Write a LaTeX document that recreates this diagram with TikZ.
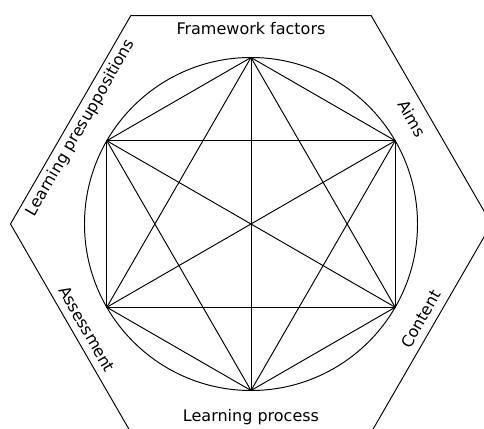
\documentclass[tikz,border=0pt]{standalone}
\usepackage{fontspec}
\setmainfont{DejaVu Sans}
\begin{document}
\begin{tikzpicture}[x=0.625pt, y=0.625pt, line join=round, line cap=round, line width=0.6pt,
  sidelabel/.style={inner sep=0pt, font=\normalsize}]
% Parameters
\def\rcircle{166.5}
\def\rhex{240.5}
% Frame of the picture
\useasboundingbox (-251,-205) rectangle (233,224);
\clip (-251,-205) rectangle (233,224);
% Points on the circle and corners of the hexagon
\coordinate (O) at (0,0);
\foreach \i/\a in {1/90,2/30,3/-30,4/-90,5/-150,6/150}
  \coordinate (P\i) at (\a:\rcircle);
\foreach \i/\a in {1/0,2/60,3/120,4/180,5/240,6/300}
  \coordinate (H\i) at (\a:\rhex);
% Hexagon and circle
\draw (H1) -- (H2) -- (H3) -- (H4) -- (H5) -- (H6) -- cycle;
\draw (O) circle (\rcircle);
% Join every pair of points
\foreach \i in {1,...,5}{
  \pgfmathtruncatemacro\next{\i+1}
  \foreach \j in {\next,...,6}
    \draw (P\i) -- (P\j);
}
% Labels on the sides
\node[sidelabel, anchor=base] (framework) at (0,189) {Framework factors};
\node[sidelabel, rotate=-60] (aims) at (161,105.5) {Aims};
\node[sidelabel, rotate=60] (content) at (170,-95) {Content};
\node[sidelabel, anchor=base] (process) at (0,-197.7) {Learning process};
\node[sidelabel, rotate=-60] (assessment) at (-164,-105) {Assessment};
\node[sidelabel, rotate=60] (presupp) at (-170,96) {Learning presuppositions};
\end{tikzpicture}
\end{document}
